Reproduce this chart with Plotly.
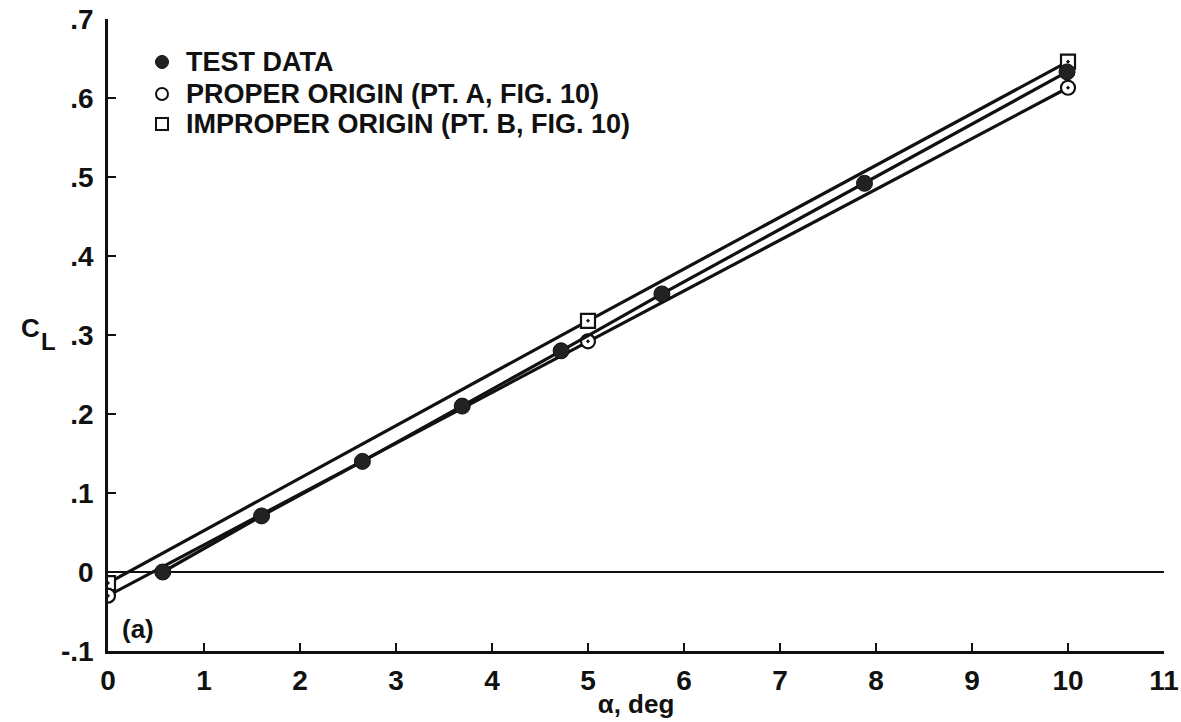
import plotly.graph_objects as go

# Data
test_alpha = [0.57, 1.6, 2.65, 3.69, 4.72, 5.77, 7.88, 9.99]
test_cl = [0.0, 0.071, 0.140, 0.210, 0.280, 0.352, 0.492, 0.633]

proper_alpha = [0.0, 5.0, 10.0]
proper_cl = [-0.030, 0.292, 0.613]

improper_alpha = [0.0, 5.0, 10.0]
improper_cl = [-0.014, 0.318, 0.646]

series_names = ["TEST DATA", "PROPER ORIGIN (PT. A, FIG. 10)", "IMPROPER ORIGIN (PT. B, FIG. 10)"]

x_ticks = list(range(0, 12))
y_ticks = [-0.1, 0.0, 0.1, 0.2, 0.3, 0.4, 0.5, 0.6, 0.7]
y_ticktext = ["-.1", "0", ".1", ".2", ".3", ".4", ".5", ".6", ".7"]

FONT = "Liberation Sans"
BLACK = "#111111"

# plot area in pixels (for converting layout positions)
L, R, T, B = 108, 17, 19, 71
W, H = 1181, 722
PW, PH = W - L - R, H - T - B


def px_x(p):
    return (p - L) / PW


def px_y(p):
    return (H - B - p) / PH


fig = go.Figure()

fig.add_trace(go.Scatter(
    x=improper_alpha, y=improper_cl, mode="lines+markers", name=series_names[2], showlegend=False,
    line=dict(color=BLACK, width=3.2),
    marker=dict(symbol="square-dot", size=14, color="white", line=dict(color=BLACK, width=2.2)),
))
fig.add_trace(go.Scatter(
    x=proper_alpha, y=proper_cl, mode="lines+markers", name=series_names[1], showlegend=False,
    line=dict(color=BLACK, width=3.2),
    marker=dict(symbol="circle-dot", size=14, color="white", line=dict(color=BLACK, width=2.2)),
))
fig.add_trace(go.Scatter(
    x=test_alpha, y=test_cl, mode="lines+markers", name=series_names[0], showlegend=False,
    line=dict(color=BLACK, width=3.2),
    marker=dict(symbol="circle", size=16, color="#222222", line=dict(color=BLACK, width=1)),
))

# legend drawn manually (marker shapes + text)
row_y = [62, 94, 124]
marker_x = 162
text_x = 184
legend_kinds = ["filled_circle", "open_circle", "open_square"]
for name, kind, ry in zip(series_names, legend_kinds, row_y):
    r = 6.5 if kind == "filled_circle" else 6
    fig.add_shape(
        type="rect" if kind == "open_square" else "circle",
        xref="paper", yref="paper", xsizemode="pixel", ysizemode="pixel",
        xanchor=px_x(marker_x), yanchor=px_y(ry),
        x0=-r, x1=r, y0=-r, y1=r,
        fillcolor="#222222" if kind == "filled_circle" else "white",
        line=dict(color=BLACK, width=1 if kind == "filled_circle" else 2),
    )
    fig.add_annotation(x=px_x(text_x), y=px_y(ry), xref="paper", yref="paper", text=name,
                       showarrow=False, xanchor="left", yanchor="middle",
                       font=dict(family=FONT, size=27, color=BLACK, weight="bold"))

fig.add_annotation(x=0.31, y=-0.072, xref="x", yref="y", text="(a)", showarrow=False,
                   font=dict(family=FONT, size=26, color=BLACK, weight="bold"))
# C_L axis label: subscript drawn at full size, shifted down
fig.add_annotation(x=px_x(19), y=px_y(328), xref="paper", yref="paper", text="C",
                   showarrow=False, font=dict(family=FONT, size=26, color=BLACK, weight="bold"))
fig.add_annotation(x=px_x(39), y=px_y(341), xref="paper", yref="paper", text="L",
                   showarrow=False, font=dict(family=FONT, size=24, color=BLACK, weight="bold"))

fig.update_layout(
    width=W, height=H,
    margin=dict(l=L, r=R, t=T, b=B, autoexpand=False),
    paper_bgcolor="white", plot_bgcolor="white",
    showlegend=False,
    font=dict(family=FONT, color=BLACK, size=27, weight="bold"),
    xaxis=dict(range=[0, 11], tickvals=x_ticks, showline=True, linecolor=BLACK, linewidth=2.5,
               ticks="inside", ticklen=8, tickwidth=2, tickcolor=BLACK, showgrid=False, zeroline=False,
               tickfont=dict(family=FONT, size=28, color=BLACK, weight="bold"), ticklabelstandoff=3,
               title=dict(text="\u03b1, deg", font=dict(family=FONT, size=26, color=BLACK, weight="bold"),
                          standoff=0)),
    yaxis=dict(range=[-0.1, 0.7], tickvals=y_ticks, ticktext=y_ticktext, showline=True, linecolor=BLACK,
               linewidth=2.5, ticks="inside", ticklen=8, tickwidth=2, tickcolor=BLACK, showgrid=False,
               zeroline=True, zerolinecolor=BLACK, zerolinewidth=2.2,
               tickfont=dict(family=FONT, size=28, color=BLACK, weight="bold"), ticklabelstandoff=6),
)

fig.write_html("out.html")
